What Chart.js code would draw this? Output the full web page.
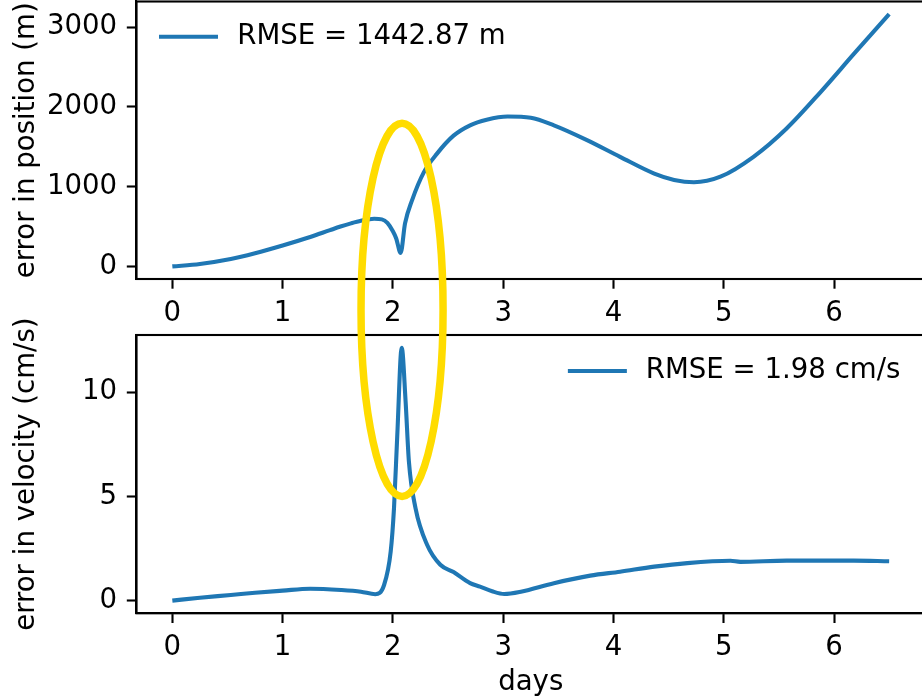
<!DOCTYPE html>
<html><head><meta charset="utf-8">
<script src="https://cdn.jsdelivr.net/npm/chart.js@4.4.0/dist/chart.umd.min.js"></script>
<style>
html,body{margin:0;padding:0;background:#fff;overflow:hidden;width:922px;height:697px;}
#wrap{position:relative;width:922px;height:697px;overflow:hidden;background:#fff;}
canvas{position:absolute;left:0;top:0;}
</style></head><body>
<div id="wrap"><canvas id="c1" width="930" height="700"></canvas><canvas id="c2" width="930" height="700"></canvas></div>
<script>
// ---- data ----
const posDays = [0, 0.25, 0.53, 0.75, 1.0, 1.25, 1.43, 1.525, 1.62, 1.71, 1.83, 1.9, 1.95, 2.0, 2.03, 2.07, 2.11, 2.175, 2.28, 2.4, 2.55, 2.7, 2.85, 3.04, 3.25, 3.46, 3.76, 4.06, 4.37, 4.55, 4.73, 4.97, 5.27, 5.57, 5.88, 6.18, 6.5];
const posErr  = [0, 30, 92, 165, 262, 368, 455, 500, 540, 572, 598, 590, 545, 440, 350, 170, 540, 835, 1180, 1415, 1640, 1770, 1840, 1880, 1865, 1770, 1585, 1375, 1165, 1085, 1055, 1125, 1375, 1730, 2190, 2665, 3165];
const velDays = [0, 0.25, 0.53, 0.75, 1.0, 1.25, 1.53, 1.71, 1.84, 1.92, 1.98, 2.01, 2.04, 2.08, 2.115, 2.145, 2.205, 2.31, 2.43, 2.55, 2.7, 2.79, 2.9, 3.01, 3.16, 3.46, 3.79, 4.06, 4.37, 4.67, 5.06, 5.15, 5.57, 6.18, 6.5];
const velErr  = [0, 0.14, 0.27, 0.38, 0.48, 0.57, 0.51, 0.43, 0.31, 0.75, 2.36, 4.44, 7.97, 12.13, 9.57, 6.68, 4.44, 2.68, 1.72, 1.37, 0.84, 0.67, 0.45, 0.32, 0.43, 0.84, 1.2, 1.39, 1.63, 1.8, 1.91, 1.86, 1.92, 1.92, 1.89];
const xTicks   = [0, 1, 2, 3, 4, 5, 6];
const posTicks = [0, 1000, 2000, 3000];
const velTicks = [0, 5, 10];
const posLabel = 'RMSE = 1442.87 m';
const velLabel = 'RMSE = 1.98 cm/s';
const xTitle   = 'days';
const posTitle = 'error in position (m)';
const velTitle = 'error in velocity (cm/s)';
const xRange   = [-0.325, 6.825];
const posRange = [-158, 3323];
const velRange = [-0.607, 12.74];
// highlight ring (data units): centre day, half width in days, top in m (upper panel), bottom in cm/s (lower panel)
const ringDay = 2.083, ringHalfDays = 0.372, ringTopPos = 1796, ringBottomVel = 5.0;

const FONT = 'DejaVu Sans';
const FS = 27.6;
const BLUE = '#1f77b4';
const TICK = 9.7, SPINE = 2.1;
Chart.defaults.font.family = FONT;
Chart.defaults.color = '#000';

function tickSetter(arr){ return s => { s.ticks = arr.map(v => ({value: v})); }; }
function yFit(w){ return s => { s.width = w; s.paddingTop = 0; s.paddingBottom = 0; }; }
function xFit(h){ return s => { s.height = h; s.paddingLeft = 0; s.paddingRight = 0; }; }

function gridCfg(){ return { display: true, drawOnChartArea: false, drawTicks: true, tickLength: TICK, tickColor: '#000', tickWidth: SPINE }; }
function borderCfg(){ return { display: true, color: '#000', width: SPINE }; }

const boxPlugin = {
  id: 'box',
  afterDraw(chart){
    const a = chart.chartArea, ctx = chart.ctx;
    ctx.save(); ctx.strokeStyle = '#000'; ctx.lineWidth = SPINE;
    ctx.strokeRect(a.left, a.top, a.right - a.left, a.bottom - a.top);
    ctx.restore();
  }
};
const legendPlugin = {
  id: 'mplLegend',
  afterDatasetsDraw(chart, args, o){
    const ds = chart.data.datasets[0];
    const ctx = chart.ctx, a = chart.chartArea;
    ctx.save();
    ctx.font = FS + 'px "' + FONT + '"';
    const tw = ctx.measureText(ds.label).width;
    const x0 = o.align === 'left' ? a.left + o.dx : a.right - o.dx - tw - o.gap - o.len;
    const y = a.top + o.dy;
    ctx.strokeStyle = ds.borderColor; ctx.lineWidth = ds.borderWidth;
    ctx.beginPath(); ctx.moveTo(x0, y); ctx.lineTo(x0 + o.len, y); ctx.stroke();
    ctx.fillStyle = '#000'; ctx.textBaseline = 'middle'; ctx.textAlign = 'left';
    ctx.fillText(ds.label, x0 + o.len + o.gap, y);
    ctx.restore();
  }
};

function makeChart(id, days, vals, label, yRange, yTicks, yTitle, pad, xH, xTitleOn, legendOpts, extraPlugins){
  return new Chart(document.getElementById(id), {
    type: 'line',
    data: { datasets: [{ label: label, data: days.map((d, i) => ({x: d, y: vals[i]})),
      borderColor: BLUE, borderWidth: 4.1, pointRadius: 0, fill: false,
      cubicInterpolationMode: 'monotone', borderJoinStyle: 'round' }] },
    options: {
      responsive: false, animation: false, devicePixelRatio: 1,
      layout: { padding: pad },
      plugins: { legend: { display: false }, tooltip: { enabled: false }, mplLegend: legendOpts },
      scales: {
        x: { type: 'linear', min: xRange[0], max: xRange[1],
          afterBuildTicks: tickSetter(xTicks), afterFit: xFit(xH),
          grid: gridCfg(), border: borderCfg(),
          ticks: { color: '#000', font: { size: FS }, padding: 8.5, maxRotation: 0, callback: v => String(v) },
          title: { display: xTitleOn, text: xTitle, color: '#000', font: { size: FS }, padding: { top: 0, bottom: 1 } } },
        y: { type: 'linear', min: yRange[0], max: yRange[1],
          afterBuildTicks: tickSetter(yTicks), afterFit: yFit(136.5),
          grid: gridCfg(), border: borderCfg(),
          ticks: { color: '#000', font: { size: FS }, padding: 9.7, callback: v => String(v) },
          title: { display: true, text: yTitle, color: '#000', font: { size: FS }, padding: { top: 10.5, bottom: 0 } } }
      }
    },
    plugins: [boxPlugin, legendPlugin].concat(extraPlugins || [])
  });
}

const chart1 = makeChart('c1', posDays, posErr, posLabel, posRange, posTicks, posTitle,
  { left: 0, top: 1.5, right: 5, bottom: 700 - 279 - 50 }, 50, false,
  { align: 'left', dx: 22.5, dy: 35.2, len: 59, gap: 19.3 });

const ringPlugin = {
  id: 'ring',
  afterDraw(chart){
    const ctx = chart.ctx;
    const cx = chart.scales.x.getPixelForValue(ringDay);
    const rx = chart.scales.x.getPixelForValue(ringDay + ringHalfDays) - cx;
    const top = chart1.scales.y.getPixelForValue(ringTopPos);
    const bot = chart.scales.y.getPixelForValue(ringBottomVel);
    ctx.save();
    ctx.strokeStyle = '#ffdc00'; ctx.lineWidth = 7.5;
    ctx.beginPath();
    ctx.ellipse(cx, (top + bot) / 2, rx, (bot - top) / 2, 0, 0, Math.PI * 2);
    ctx.stroke();
    ctx.restore();
  }
};

const chart2 = makeChart('c2', velDays, velErr, velLabel, velRange, velTicks, velTitle,
  { left: 0, top: 335, right: 5, bottom: 0 }, 700 - 613.3, true,
  { align: 'right', dx: 24.6, dy: 36, len: 59, gap: 19 }, [ringPlugin]);
</script>
</body></html>
